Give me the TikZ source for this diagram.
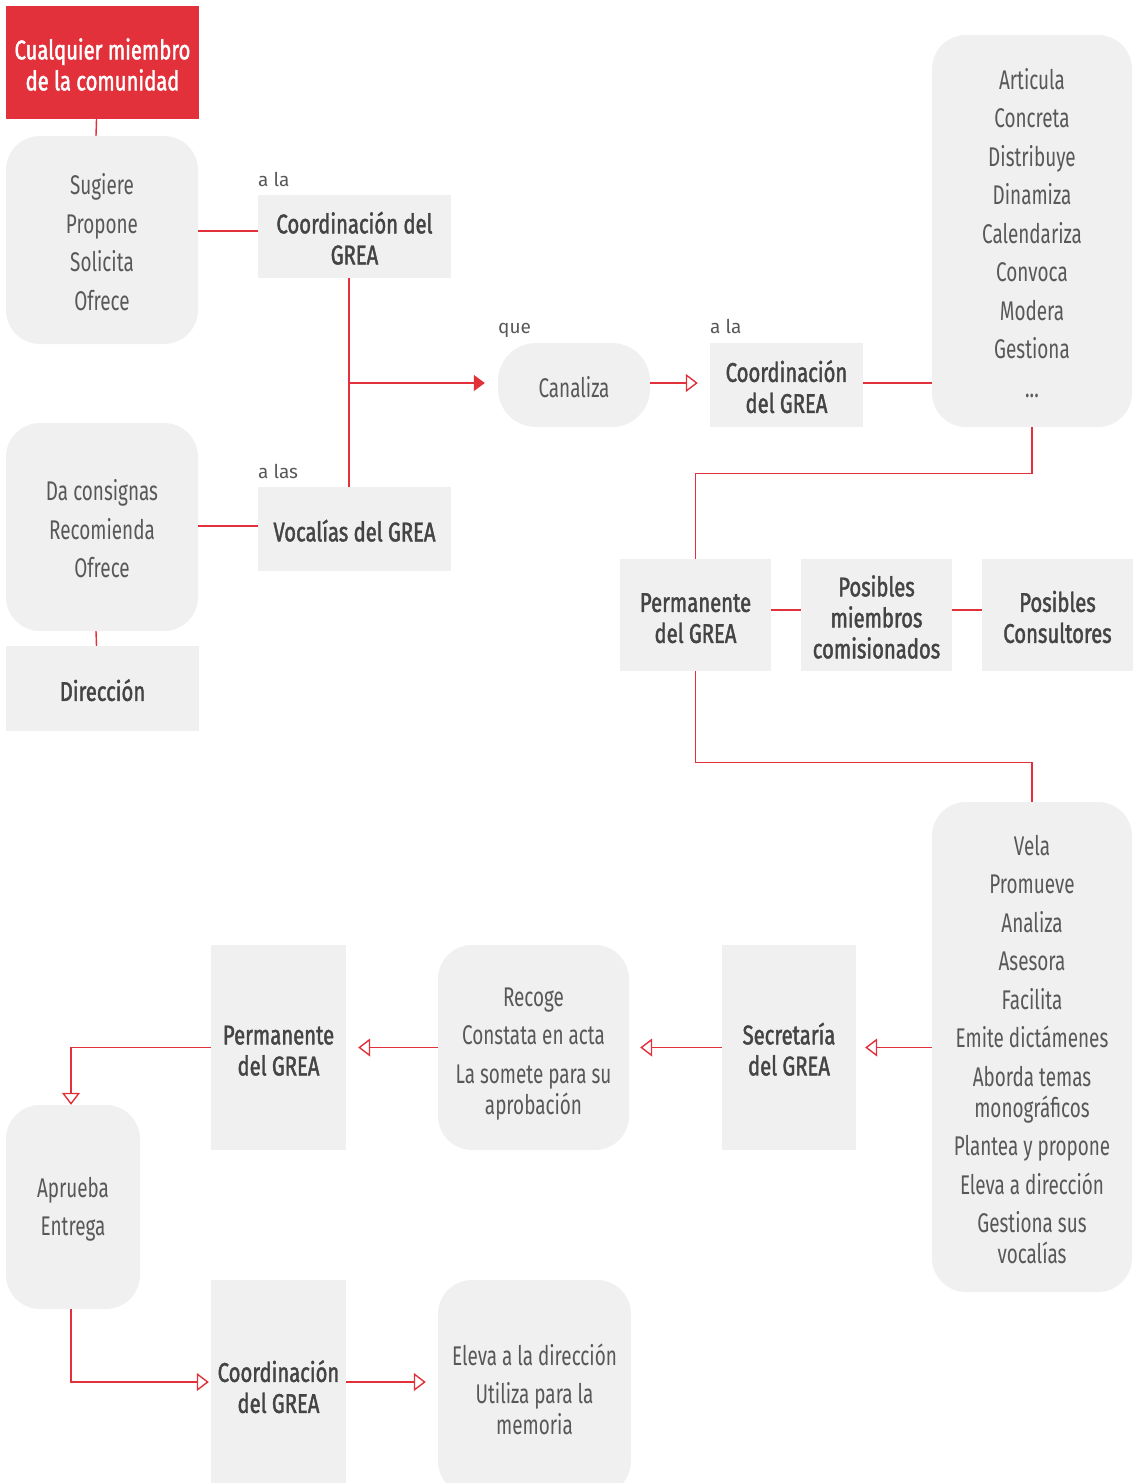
\documentclass[tikz,border=0pt]{standalone}
\usepackage{fontspec}
\setmainfont[FakeStretch=0.7]{Fira Sans}
\newfontfamily\semib[FakeStretch=0.75,FakeBold=1.6]{Fira Sans}
\newfontfamily\labelfont{Fira Sans}
\usetikzlibrary{arrows.meta}
\definecolor{grred}{HTML}{E2313A}
\definecolor{boxgray}{HTML}{F0F0F0}
\definecolor{txtdark}{HTML}{444444}
\definecolor{txtlight}{HTML}{585858}
\newcommand\Tst{\rule{0pt}{25pt}}
\begin{document}
\begin{tikzpicture}[x=1pt,y=-1pt,
  box/.style={fill=boxgray, inner sep=0pt, align=center},
  sq/.style={box, text=txtdark, font=\semib\fontsize{27}{31}\selectfont},
  rnd/.style={box, rounded corners=34pt, text=txtlight, font=\fontsize{27}{31}\selectfont},
  conn/.style={draw=grred, line width=1.4pt},
  oarrow/.style={conn, -{Triangle[open, length=12pt, width=18pt]}},
  farrow/.style={conn, -{Triangle[length=11pt, width=16pt]}},
  lbl/.style={font=\labelfont\fontsize{19}{22}\selectfont, text=txtlight, inner sep=0pt, anchor=base west}]
\useasboundingbox (0,0) rectangle (1135,1483);

% top-left
\node[box, fill=grred, text=white, font=\semib\fontsize{27}{31}\selectfont,
  minimum width=193pt, minimum height=113pt] (red) at (102.5,62.5) {\Tst Cualquier miembro\\de la comunidad};
\node[rnd, minimum width=192pt, minimum height=208pt] (box1) at (102,240)
  {\Tst Sugiere\\[7.5pt]Propone\\[7.5pt]Solicita\\[7.5pt]Ofrece};
\node[sq, minimum width=193pt, minimum height=83pt] (coord1) at (354.5,236.5) {\Tst Coordinación del\\GREA};
\node[lbl] (ala1) at (258,186) {a la};

\node[rnd, rounded corners=38pt, minimum width=152pt, minimum height=84pt] (canal) at (574,385) {\Tst Canaliza};
\node[lbl] (que) at (498,333) {que};
\node[sq, minimum width=153pt, minimum height=84pt] (coord2) at (786.5,385) {\Tst Coordinación\\del GREA};
\node[lbl] (ala2) at (710,333) {a la};

\node[rnd, minimum width=200pt, minimum height=392pt] (big1) at (1032,231)
  {\Tst Articula\\[7.5pt]Concreta\\[7.5pt]Distribuye\\[7.5pt]Dinamiza\\[7.5pt]Calendariza\\[7.5pt]Convoca\\[7.5pt]Modera\\[7.5pt]Gestiona\\[7.5pt]...};

\node[rnd, minimum width=192pt, minimum height=208pt] (box2) at (102,527)
  {\Tst Da consignas\\[7.5pt]Recomienda\\[7.5pt]Ofrece};
\node[sq, minimum width=193pt, minimum height=84pt] (vocal) at (354.5,529) {\Tst Vocalías del GREA};
\node[lbl] (alas) at (258,478) {a las};
\node[sq, minimum width=193pt, minimum height=85pt] (direc) at (102.5,688.5) {\Tst Dirección};

\node[sq, minimum width=151pt, minimum height=112pt] (perm1) at (695.5,615) {\Tst Permanente\\del GREA};
\node[sq, minimum width=151pt, minimum height=112pt] (posm) at (876.5,615) {\Tst Posibles\\miembros\\comisionados};
\node[sq, minimum width=151pt, minimum height=112pt] (posc) at (1057.5,615) {\Tst Posibles\\Consultores};

\node[rnd, minimum width=200pt, minimum height=490pt] (big2) at (1032,1047)
  {\Tst Vela\\[7.5pt]Promueve\\[7.5pt]Analiza\\[7.5pt]Asesora\\[7.5pt]Facilita\\[7.5pt]Emite dictámenes\\[7.5pt]Aborda temas\\monográficos\\[7.5pt]Plantea y propone\\[7.5pt]Eleva a dirección\\[7.5pt]Gestiona sus\\vocalías};
\node[sq, minimum width=134pt, minimum height=205pt] (secre) at (789,1047.5) {\Tst Secretaría\\del GREA};
\node[rnd, minimum width=191pt, minimum height=205pt] (recoge) at (533.5,1047.5)
  {\rule{0pt}{31pt}Recoge\\[7.5pt]Constata en acta\\[7.5pt]La somete para su\\aprobación};
\node[sq, minimum width=135pt, minimum height=205pt] (perm2) at (278.5,1047.5) {\Tst Permanente\\del GREA};
\node[rnd, minimum width=134pt, minimum height=204pt] (aprueba) at (73,1207) {\Tst Aprueba\\[7.5pt]Entrega};
\node[sq, minimum width=135pt, minimum height=210pt] (coord3) at (278.5,1385) {\Tst Coordinación\\del GREA};
\node[rnd, minimum width=193pt, minimum height=215pt] (eleva) at (534.5,1387.5)
  {\Tst Eleva a la dirección\\[7.5pt]Utiliza para la\\memoria};

% connectors
\coordinate (br) at (349,383);
\draw[conn] ([xshift=-6pt]red.south) -- ([xshift=-6pt]box1.north);
\draw[conn] ([yshift=5.5pt]coord1.west -| box1.east) -- ([yshift=5.5pt]coord1.west);
\draw[conn] ([xshift=-5.5pt]coord1.south) -- ([xshift=-5.5pt]vocal.north);
\draw[farrow, shorten >=13pt] (br) -- (br -| canal.west);
\draw[oarrow, shorten >=12pt] (br -| canal.east) -- (br -| coord2.west);
\draw[conn] (br -| coord2.east) -- (br -| big1.west);
\draw[conn] (big1.south) -- ++(0,46) -| (perm1.north);
\draw[conn] ([yshift=3pt]vocal.west -| box2.east) -- ([yshift=3pt]vocal.west);
\draw[conn] ([xshift=-6pt]box2.south) -- ([xshift=-6pt]direc.north);
\draw[conn] ([yshift=5pt]perm1.east) -- ([yshift=5pt]posm.west);
\draw[conn] ([yshift=5pt]posm.east) -- ([yshift=5pt]posc.west);
\draw[conn] (perm1.south) -- ++(0,91) -| (big2.north);
\draw[oarrow, shorten >=9pt] (secre.east -| big2.west) -- (secre.east);
\draw[oarrow, shorten >=11pt] (secre.west) -- (recoge.east);
\draw[oarrow, shorten >=12pt] (recoge.west) -- (perm2.east);
\draw[oarrow] (perm2.west) -| ([xshift=-2pt]aprueba.north);
\draw[oarrow, shorten >=2pt] ([xshift=-2pt]aprueba.south) |- ([yshift=3pt]coord3.west);
\draw[oarrow, shorten >=12pt] ([yshift=3pt]coord3.east) -- ([yshift=3pt]coord3.east -| eleva.west);
\end{tikzpicture}
\end{document}
